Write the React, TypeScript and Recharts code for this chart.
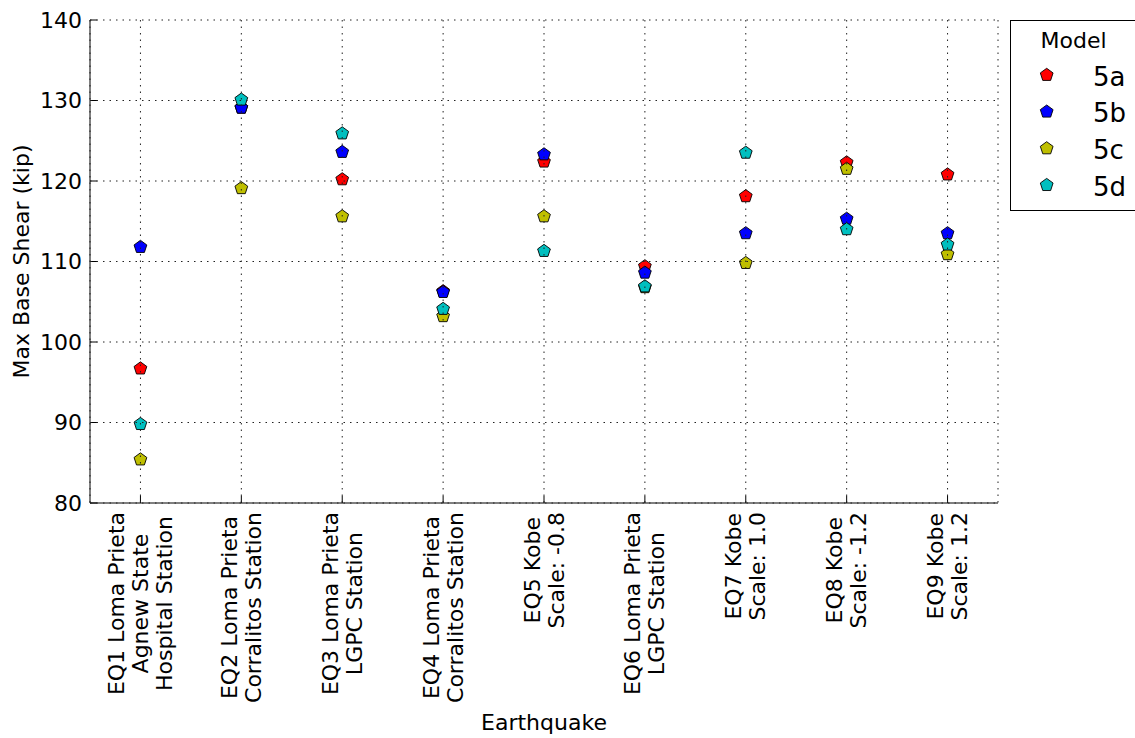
import React from 'react';
import { ScatterChart, Scatter, XAxis, YAxis, CartesianGrid, Legend, Label } from 'recharts';

// ---- data ----
const categories: string[][] = [
  ['EQ1 Loma Prieta', 'Agnew State', 'Hospital Station'],
  ['EQ2 Loma Prieta', 'Corralitos Station'],
  ['EQ3 Loma Prieta', 'LGPC Station'],
  ['EQ4 Loma Prieta', 'Corralitos Station'],
  ['EQ5 Kobe', 'Scale: -0.8'],
  ['EQ6 Loma Prieta', 'LGPC Station'],
  ['EQ7 Kobe', 'Scale: 1.0'],
  ['EQ8 Kobe', 'Scale: -1.2'],
  ['EQ9 Kobe', 'Scale: 1.2'],
];

const model5a = [96.7, 129.1, 120.2, 106.3, 122.4, 109.4, 118.1, 122.3, 120.8];
const model5b = [111.8, 129.1, 123.6, 106.2, 123.3, 108.6, 113.5, 115.3, 113.5];
const model5c = [85.4, 119.1, 115.6, 103.2, 115.6, 106.8, 109.8, 121.5, 110.9];
const model5d = [89.8, 130.1, 125.9, 104.1, 111.3, 106.9, 123.5, 114.0, 112.1];

const seriesNames = ['5a', '5b', '5c', '5d'];
const seriesValues = [model5a, model5b, model5c, model5d];
const seriesColors = ['#ff0000', '#0000ff', '#bfbf00', '#00bfbf'];

const yTicks = [80, 90, 100, 110, 120, 130, 140];
const xTicks = categories.map((_, i) => i + 1);

const xAxisTitle = 'Earthquake';
const yAxisTitle = 'Max Base Shear (kip)';
const legendTitle = 'Model';

// ---- helpers ----
const FONT = "'DejaVu Sans', sans-serif";
const FS = 22;
const MARKER_R = 6.7;

const pentagonPoints = (cx: number, cy: number, r: number) =>
  Array.from({ length: 5 }, (_, k) => {
    const a = ((-90 + 72 * k) * Math.PI) / 180;
    return `${cx + r * Math.cos(a)},${cy + r * Math.sin(a)}`;
  }).join(' ');

const Pentagon = (props: any) => {
  const { cx, cy, fill } = props;
  if (cx == null || cy == null) return null;
  return <polygon points={pentagonPoints(cx, cy, MARKER_R)} fill={fill} stroke="#000" strokeWidth={0.9} />;
};

let measureCtx: CanvasRenderingContext2D | null = null;
const measure = (s: string) => {
  if (!measureCtx) {
    const c = document.createElement('canvas');
    measureCtx = c.getContext('2d');
  }
  if (!measureCtx) return s.length * 12;
  measureCtx.font = `${FS}px 'DejaVu Sans'`;
  return measureCtx.measureText(s).width;
};

const XTick = (props: any) => {
  const { x, y, payload } = props;
  const idx = Math.round(payload.value) - 1;
  const lines = categories[idx] || [];
  const maxW = Math.max(...lines.map(measure));
  const n = lines.length;
  return (
    <g>
      <line x1={x} y1={y} x2={x} y2={y - 7} stroke="#000" strokeWidth={1} />
      <g transform={`translate(${x},${y + 9}) rotate(-90)`}>
        {lines.map((l, i) => (
          <text
            key={i}
            x={-maxW / 2}
            y={(i - (n - 1) / 2) * 24}
            textAnchor="middle"
            dominantBaseline="central"
            fontSize={FS}
            fontFamily={FONT}
            fill="#000"
          >
            {l}
          </text>
        ))}
      </g>
    </g>
  );
};

const TopTick = (props: any) => {
  const { x, y } = props;
  return <line x1={x} y1={y} x2={x} y2={y + 7} stroke="#000" strokeWidth={1} />;
};

const YTickLeft = (props: any) => {
  const { x, y, payload } = props;
  return (
    <g>
      <line x1={x} y1={y} x2={x + 7} y2={y} stroke="#000" strokeWidth={1} />
      <text x={x - 8} y={y} textAnchor="end" dominantBaseline="central" fontSize={FS} fontFamily={FONT} fill="#000">
        {payload.value}
      </text>
    </g>
  );
};

const YTickRight = (props: any) => {
  const { x, y } = props;
  return <line x1={x} y1={y} x2={x - 7} y2={y} stroke="#000" strokeWidth={1} />;
};

const YLabel = (props: any) => {
  const vb = props.viewBox || { x: 0, y: 20, width: 90, height: 483 };
  const cy = vb.y + vb.height / 2;
  return (
    <text
      transform={`translate(21,${cy}) rotate(-90)`}
      textAnchor="middle"
      dominantBaseline="central"
      fontSize={FS}
      fontFamily={FONT}
      fill="#000"
    >
      {yAxisTitle}
    </text>
  );
};

const XLabel = (props: any) => {
  const vb = props.viewBox || { x: 90, y: 503, width: 908, height: 235 };
  const cx = vb.x + vb.width / 2;
  return (
    <text x={cx} y={730} textAnchor="middle" fontSize={FS} fontFamily={FONT} fill="#000">
      {xAxisTitle}
    </text>
  );
};

const LegendBox = (props: any) => {
  const payload = props.payload || [];
  return (
    <svg width={127} height={191} style={{ display: 'block' }}>
      <rect x={0.5} y={0.5} width={126} height={190} fill="#fff" stroke="#000" strokeWidth={1} />
      <text x={63.5} y={20} textAnchor="middle" dominantBaseline="central" fontSize={FS} fontFamily={FONT} fill="#000">
        {legendTitle}
      </text>
      {payload.map((p: any, i: number) => {
        const name = p.value;
        const si = seriesNames.indexOf(name);
        const color = si >= 0 ? seriesColors[si] : p.color;
        const cy = 55 + 36.7 * i;
        return (
          <g key={name}>
            <polygon points={pentagonPoints(36.7, cy, MARKER_R)} fill={color} stroke="#000" strokeWidth={0.9} />
            <text x={83} y={cy + 1.5} dominantBaseline="central" fontSize={26} fontFamily={FONT} fill="#000">
              {name}
            </text>
          </g>
        );
      })}
    </svg>
  );
};

export default function App() {
  const datasets = seriesValues.map((vals) => vals.map((v, i) => ({ x: xTicks[i], y: v })));
  return (
    <div
      style={{
        position: 'absolute',
        left: 0,
        top: 0,
        width: 1135,
        height: 738,
        overflow: 'hidden',
        background: '#fff',
        fontFamily: FONT,
      }}
    >
      <ScatterChart width={1135} height={738} margin={{ top: 20, right: 137, bottom: 0, left: 0 }}>
        <XAxis
          dataKey="x"
          type="number"
          domain={[0.5, 9.5]}
          ticks={xTicks}
          allowDataOverflow
          interval={0}
          height={235}
          tickSize={0}
          tickMargin={0}
          tickLine={false}
          axisLine={{ stroke: '#000', strokeWidth: 1 }}
          tick={<XTick />}
        >
          <Label content={<XLabel />} />
        </XAxis>
        <XAxis
          xAxisId="top"
          orientation="top"
          type="number"
          domain={[0.5, 9.5]}
          ticks={xTicks}
          allowDataOverflow
          interval={0}
          height={0}
          tickSize={0}
          tickMargin={0}
          tickLine={false}
          axisLine={{ stroke: '#000', strokeWidth: 1 }}
          tick={<TopTick />}
        />
        <YAxis
          dataKey="y"
          type="number"
          domain={[80, 140]}
          ticks={yTicks}
          allowDataOverflow
          interval={0}
          width={90}
          tickSize={0}
          tickMargin={0}
          tickLine={false}
          axisLine={{ stroke: '#000', strokeWidth: 1 }}
          tick={<YTickLeft />}
        >
          <Label content={<YLabel />} />
        </YAxis>
        <YAxis
          yAxisId="right"
          orientation="right"
          type="number"
          domain={[80, 140]}
          ticks={yTicks}
          allowDataOverflow
          interval={0}
          width={0}
          tickSize={0}
          tickMargin={0}
          tickLine={false}
          axisLine={{ stroke: '#000', strokeWidth: 1 }}
          tick={<YTickRight />}
        />
        {seriesNames.map((name, si) => (
          <Scatter
            key={name}
            name={name}
            data={datasets[si]}
            fill={seriesColors[si]}
            shape={<Pentagon />}
            isAnimationActive={false}
          />
        ))}
        <CartesianGrid stroke="#222" strokeWidth={1} strokeDasharray="1.5 5" {...({ zIndex: 2000 } as any)} />
        <Legend
          layout="vertical"
          align="center"
          verticalAlign="middle"
          content={<LegendBox />}
          wrapperStyle={{ position: 'absolute', left: 1010, top: 20, width: 127, height: 191, bottom: 'auto', right: 'auto' }}
        />
      </ScatterChart>
    </div>
  );
}
